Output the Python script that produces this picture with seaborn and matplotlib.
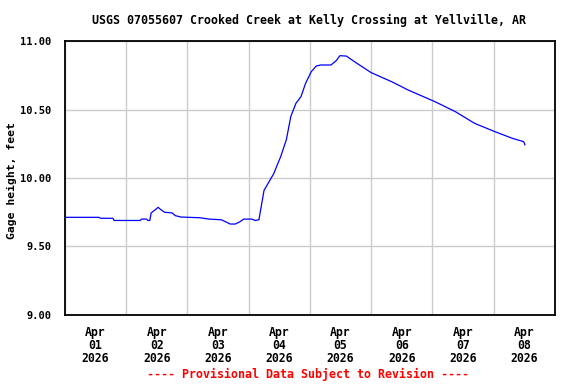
import pandas as pd
import numpy as np
import matplotlib
matplotlib.use("Agg")
import matplotlib.pyplot as plt
import matplotlib.dates as mdates
import matplotlib.ticker as mticker
import seaborn as sns

TITLE = "USGS 07055607 Crooked Creek at Kelly Crossing at Yellville, AR"
YLABEL = "Gage height, feet"
FOOTER = "---- Provisional Data Subject to Revision ----"

times = [
    "2026-04-01 00:00", "2026-04-01 13:15", "2026-04-01 14:00", "2026-04-01 18:45",
    "2026-04-01 19:15", "2026-04-02 05:30", "2026-04-02 06:00", "2026-04-02 08:00",
    "2026-04-02 08:30", "2026-04-02 09:15", "2026-04-02 09:45", "2026-04-02 11:30",
    "2026-04-02 12:30", "2026-04-02 13:30", "2026-04-02 15:00", "2026-04-02 18:00",
    "2026-04-02 19:15", "2026-04-02 21:30", "2026-04-03 04:45", "2026-04-03 08:30",
    "2026-04-03 13:15", "2026-04-03 15:00", "2026-04-03 16:45", "2026-04-03 18:45",
    "2026-04-03 20:30", "2026-04-03 22:00", "2026-04-04 01:15", "2026-04-04 02:30",
    "2026-04-04 04:00", "2026-04-04 06:00", "2026-04-04 09:45", "2026-04-04 12:30",
    "2026-04-04 14:45", "2026-04-04 16:30", "2026-04-04 18:30", "2026-04-04 20:30",
    "2026-04-04 22:15", "2026-04-05 00:30", "2026-04-05 02:30", "2026-04-05 04:15",
    "2026-04-05 08:15", "2026-04-05 10:15", "2026-04-05 11:45", "2026-04-05 14:15",
    "2026-04-05 18:00", "2026-04-06 00:00", "2026-04-06 08:00", "2026-04-06 14:30",
    "2026-04-07 01:00", "2026-04-07 09:00", "2026-04-07 16:30", "2026-04-08 00:30",
    "2026-04-08 07:15", "2026-04-08 11:45", "2026-04-08 12:15",
]
gage_ft = [
    9.713, 9.713, 9.706, 9.706,
    9.690, 9.690, 9.700, 9.700,
    9.690, 9.690, 9.745, 9.770,
    9.786, 9.770, 9.750, 9.745,
    9.725, 9.715, 9.710, 9.700,
    9.695, 9.680, 9.664, 9.664,
    9.680, 9.700, 9.700, 9.690,
    9.695, 9.910, 10.030, 10.155,
    10.280, 10.450, 10.545, 10.595,
    10.690, 10.776, 10.818, 10.825,
    10.825, 10.856, 10.893, 10.890,
    10.842, 10.769, 10.703, 10.642,
    10.557, 10.484, 10.399, 10.338,
    10.290, 10.265, 10.241,
]
yticks = [9.00, 9.50, 10.00, 10.50, 11.00]

df = pd.DataFrame({"time": pd.to_datetime(times), "gage": gage_ft})

sns.set_theme(style="white")
plt.rcParams["font.family"] = ["DejaVu Sans Mono"]
plt.rcParams["font.weight"] = "bold"
plt.rcParams["text.color"] = "black"
plt.rcParams["axes.labelcolor"] = "black"
plt.rcParams["xtick.color"] = "black"
plt.rcParams["ytick.color"] = "black"

fig = plt.figure(figsize=(5.76, 3.84), dpi=100)
ax = fig.add_axes([0.1128, 0.1797, 0.8507, 0.7135])

sns.lineplot(data=df, x="time", y="gage", ax=ax, color="#0000ff", linewidth=0.9)

ax.set_xlim(pd.Timestamp("2026-04-01"), pd.Timestamp("2026-04-09"))
ax.set_ylim(9.0, 11.0)

ax.xaxis.set_major_locator(mdates.DayLocator())
ax.xaxis.set_major_formatter(mticker.NullFormatter())
ax.xaxis.set_minor_locator(mdates.HourLocator(byhour=[12]))
ax.xaxis.set_minor_formatter(mdates.DateFormatter("%b\n%d\n%Y"))
ax.set_yticks(yticks)
ax.yaxis.set_major_formatter(mticker.FormatStrFormatter("%.2f"))

ax.grid(True, which="major", color="#cccccc", linewidth=1.0)
ax.tick_params(axis="both", which="both", length=0)
ax.tick_params(axis="x", which="minor", pad=8, labelsize=8.3)
ax.tick_params(axis="y", pad=10, labelsize=7.5)
for lbl in ax.xaxis.get_minorticklabels():
    lbl.set_linespacing(0.98)
    lbl.set_fontweight("bold")
for lbl in ax.get_yticklabels():
    lbl.set_fontweight("bold")

for s in ax.spines.values():
    s.set_color("black")
    s.set_linewidth(1.3)

ax.set_xlabel("")
ax.set_ylabel(YLABEL, fontsize=8.2, fontweight="bold")
ax.yaxis.set_label_coords(-0.108, 0.49)
ax.yaxis.label.set_verticalalignment("center")
fig.text(0.537, 0.947, TITLE, ha="center", va="center", fontsize=8.4, fontweight="bold")
fig.text(0.535, 0.025, FOOTER, ha="center", va="center", fontsize=8.4,
         fontweight="bold", color="#ff0000")

fig.savefig("out.png", dpi=100)
